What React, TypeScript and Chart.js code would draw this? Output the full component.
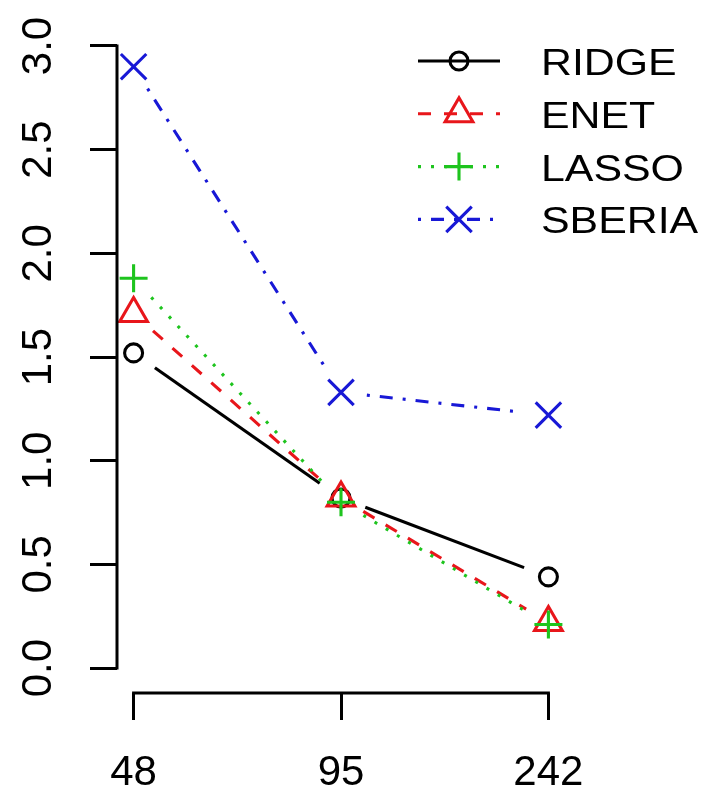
import React, { useEffect, useRef } from 'react';
import { Chart, registerables } from 'chart.js';
import { drawPoint } from 'chart.js/helpers';

Chart.register(...registerables);

// ---- data ----
const xLabels = ['48', '95', '242'];
const seriesNames = ['RIDGE', 'ENET', 'LASSO', 'SBERIA'];
const ridge = [1.52, 0.82, 0.44];
const enet = [1.71, 0.82, 0.22];
const lasso = [1.88, 0.8, 0.21];
const sberia = [2.9, 1.33, 1.22];
const yTicks = [0, 0.5, 1, 1.5, 2, 2.5, 3];

// ---- styles ----
const seriesValues = [ridge, enet, lasso, sberia];
const seriesColors = ['#000000', '#e8161b', '#1ec41e', '#1818d6'];
const seriesDash = [[], [13, 13], [3, 10], [3, 10, 13, 10]];
const seriesPointStyle = ['circle', 'triangle', 'cross', 'crossRot'];
const seriesPointRadius = [9, 16, 14, 18];
const LINE_W = 3.1;
const AXIS_W = 3;
const FONT = 'Arial, "Liberation Sans", sans-serif';

// R type="b": line segments that stop short of the points
const rLinesPlugin = {
  id: 'rLines',
  beforeDatasetsDraw(chart: any) {
    const ctx = chart.ctx;
    const gap = 26;
    chart.data.datasets.forEach((ds: any, i: number) => {
      const pts = chart.getDatasetMeta(i).data;
      ctx.save();
      ctx.strokeStyle = ds.borderColor;
      ctx.lineWidth = ds.borderWidth;
      ctx.lineCap = 'butt';
      for (let k = 0; k < pts.length - 1; k++) {
        const a = pts[k], b = pts[k + 1];
        const dx = b.x - a.x, dy = b.y - a.y;
        const len = Math.hypot(dx, dy);
        if (len <= 2 * gap) continue;
        const ux = dx / len, uy = dy / len;
        ctx.setLineDash(ds.borderDash || []);
        ctx.lineDashOffset = 0;
        ctx.beginPath();
        ctx.moveTo(a.x + ux * gap, a.y + uy * gap);
        ctx.lineTo(b.x - ux * gap, b.y - uy * gap);
        ctx.stroke();
      }
      ctx.restore();
    });
  },
};

// R-style axis lines spanning only the tick range
const rAxesPlugin = {
  id: 'rAxes',
  afterDraw(chart: any) {
    const ctx = chart.ctx;
    const xs = chart.scales.x, ys = chart.scales.y;
    const area = chart.chartArea;
    ctx.save();
    ctx.strokeStyle = '#000';
    ctx.lineWidth = AXIS_W;
    ctx.lineCap = 'square';
    ctx.setLineDash([]);
    ctx.beginPath();
    ctx.moveTo(area.left, ys.getPixelForValue(yTicks[0]));
    ctx.lineTo(area.left, ys.getPixelForValue(yTicks[yTicks.length - 1]));
    ctx.moveTo(xs.getPixelForValue(1), area.bottom);
    ctx.lineTo(xs.getPixelForValue(xLabels.length), area.bottom);
    ctx.stroke();
    ctx.restore();
  },
};

// R-style legend (bty = "n")
const rLegendPlugin = {
  id: 'rLegend',
  afterDraw(chart: any) {
    const ctx = chart.ctx;
    const top = 61, step = 52.8;
    const x0 = 418, x1 = 500, xm = 459, xt = 541;
    chart.data.datasets.forEach((ds: any, i: number) => {
      const y = top + i * step;
      ctx.save();
      ctx.strokeStyle = ds.borderColor;
      ctx.lineWidth = ds.borderWidth;
      ctx.setLineDash(ds.borderDash || []);
      ctx.beginPath();
      ctx.moveTo(x0, y);
      ctx.lineTo(x1, y);
      ctx.stroke();
      ctx.setLineDash([]);
      ctx.fillStyle = 'rgba(0,0,0,0)';
      ctx.lineWidth = ds.pointBorderWidth;
      drawPoint(ctx, { pointStyle: ds.pointStyle, rotation: 0, radius: ds.pointRadius, borderWidth: ds.pointBorderWidth }, xm, y);
      ctx.restore();

      ctx.save();
      ctx.translate(xt, y + 4);
      ctx.scale(1.19, 1);
      ctx.fillStyle = '#000';
      ctx.font = `36px ${FONT}`;
      ctx.textAlign = 'left';
      ctx.textBaseline = 'middle';
      ctx.fillText(ds.label, 0, 0);
      ctx.restore();
    });
  },
};

export default function App() {
  const ref = useRef<HTMLCanvasElement>(null);

  useEffect(() => {
    if (!ref.current) return;
    const datasets = seriesNames.map((name, i) => ({
      label: name,
      data: seriesValues[i].map((v, k) => ({ x: k + 1, y: v })),
      showLine: false,
      borderColor: seriesColors[i],
      backgroundColor: 'rgba(0,0,0,0)',
      borderWidth: LINE_W,
      borderDash: seriesDash[i],
      pointStyle: seriesPointStyle[i],
      pointRadius: seriesPointRadius[i],
      pointBorderWidth: LINE_W,
      pointBorderColor: seriesColors[i],
      pointBackgroundColor: 'rgba(0,0,0,0)',
      order: seriesNames.length - 1 - i,
    }));

    const tickGrid = {
      display: true,
      drawOnChartArea: false,
      drawTicks: true,
      tickLength: 27,
      tickWidth: AXIS_W,
      tickColor: '#000',
      color: '#000',
      lineWidth: AXIS_W,
    };

    const chart = new Chart(ref.current, {
      type: 'line',
      data: { datasets },
      plugins: [rLinesPlugin, rAxesPlugin, rLegendPlugin],
      options: {
        animation: false,
        responsive: true,
        maintainAspectRatio: false,
        devicePixelRatio: 1,
        events: [],
        layout: { padding: { left: 0, top: 18, right: 143, bottom: 0 } },
        plugins: { legend: { display: false }, tooltip: { enabled: false }, title: { display: false } },
        scales: {
          x: {
            type: 'linear',
            min: 0.92,
            max: 3.08,
            border: { display: false },
            grid: tickGrid,
            afterBuildTicks: (s: any) => {
              s.ticks = xLabels.map((_, k) => ({ value: k + 1 }));
            },
            afterFit: (s: any) => {
              s.height = 103;
              s.paddingLeft = 0;
              s.paddingRight = 0;
            },
            ticks: {
              autoSkip: false,
              maxRotation: 0,
              minRotation: 0,
              padding: 28,
              color: '#000',
              font: { family: FONT, size: 42 },
              callback: (v: any) => xLabels[Math.round(Number(v)) - 1] ?? '',
            },
          },
          y: {
            type: 'linear',
            min: -0.12,
            max: 3.12,
            border: { display: false },
            grid: tickGrid,
            afterBuildTicks: (s: any) => {
              s.ticks = yTicks.map((v) => ({ value: v }));
            },
            afterFit: (s: any) => {
              s.width = 117;
              s.paddingTop = 0;
              s.paddingBottom = 0;
            },
            ticks: {
              autoSkip: false,
              minRotation: 90,
              maxRotation: 90,
              crossAlign: 'center',
              padding: 21,
              color: '#000',
              font: { family: FONT, size: 42 },
              callback: (v: any) => Number(v).toFixed(1),
            },
          },
        },
      },
    } as any);

    return () => chart.destroy();
  }, []);

  return (
    <div style={{ position: 'fixed', left: 0, top: 0, width: 708, height: 796, background: '#fff' }}>
      <canvas ref={ref} />
    </div>
  );
}
